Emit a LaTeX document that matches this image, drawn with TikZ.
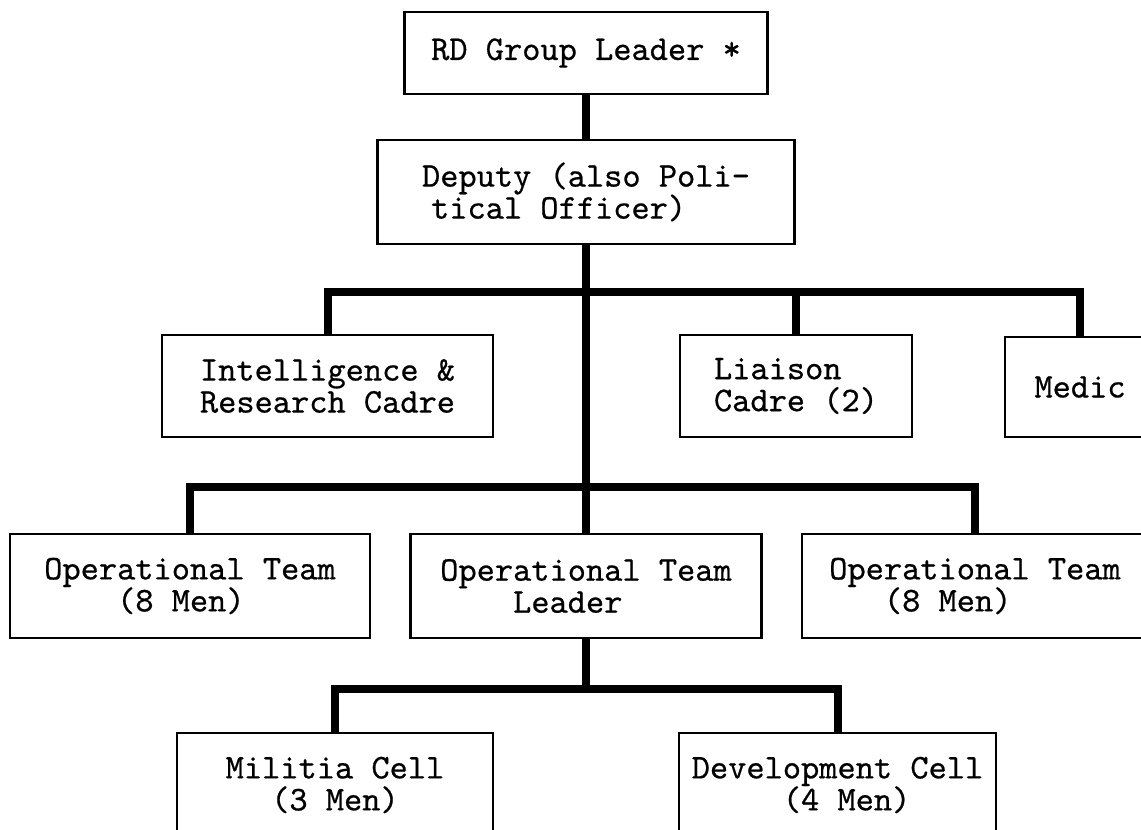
\documentclass[tikz,border=0pt]{standalone}
% typewriter face, slightly heavier than the plain mono cut
\font\twfont="[lmmono10-regular.otf]:embolden=0.6" at 34.7pt
\newcommand\boxfont{\twfont\baselineskip=32pt\relax}
\begin{document}
\begin{tikzpicture}[x=1pt,y=-1pt,
  box/.style={draw, line width=2.4pt, inner sep=0pt, anchor=center,
    font=\boxfont},
  link/.style={line width=8pt, line cap=butt, line join=miter}]
\useasboundingbox (0,0) rectangle (1141,830);

% top of the chain
\node[box, minimum width=363pt, minimum height=82pt] (rd) at (586,53) {RD Group Leader *};
\node[box, minimum width=417pt, minimum height=104pt, align=left] (dep) at (586,192)
  {Deputy (also Poli-\\\hspace*{0.26em}tical Officer)};

% staff sections
\node[box, minimum width=331pt, minimum height=102pt, align=left] (intel) at (327.5,386)
  {Intelligence \&\\Research Cadre};
\node[box, minimum width=232pt, minimum height=102pt, align=left] (liaison) at (796,386)
  {Liaison\\Cadre (2)};
\node[box, minimum width=150pt, minimum height=100pt] (medic) at (1080,387) {Medic};

% operational teams
\node[box, minimum width=360pt, minimum height=104pt, align=left] (opl) at (190,586)
  {Operational Team\\\phantom{xxxx}(8 Men)};
\node[box, minimum width=351pt, minimum height=104pt, align=left] (lead) at (586,586)
  {Operational Team\\\phantom{xxxx}Leader};
\node[box, minimum width=346pt, minimum height=104pt, align=left] (opr) at (975,586)
  {Operational Team\\\phantom{xxx}(8 Men)};

% cells under the team leader
\node[box, minimum width=316pt, minimum height=104pt, align=center] (mil) at (335,785)
  {Militia Cell\\(3 Men)};
\node[box, minimum width=317pt, minimum height=104pt, align=left] (dev) at (837.5,785)
  {Development Cell\\\phantom{xxxxx}(4 Men)};

% junctions of the bars
\coordinate (b1) at (586,292);
\coordinate (b2) at (586,487);
\coordinate (b3) at (586,689);

% connectors
\draw[link] (rd.south) -- (dep.north);
\draw[link] (dep.south) -- (lead.north);
\draw[link] (intel.north) |- (b1) -| (medic.north);
\draw[link] (liaison.north) -- (liaison.north |- b1);
\draw[link] (opl.north) |- (b2) -| (opr.north);
\draw[link] (lead.south) -- (b3);
\draw[link] (mil.north) |- (b3) -| (dev.north);
\end{tikzpicture}
\end{document}
